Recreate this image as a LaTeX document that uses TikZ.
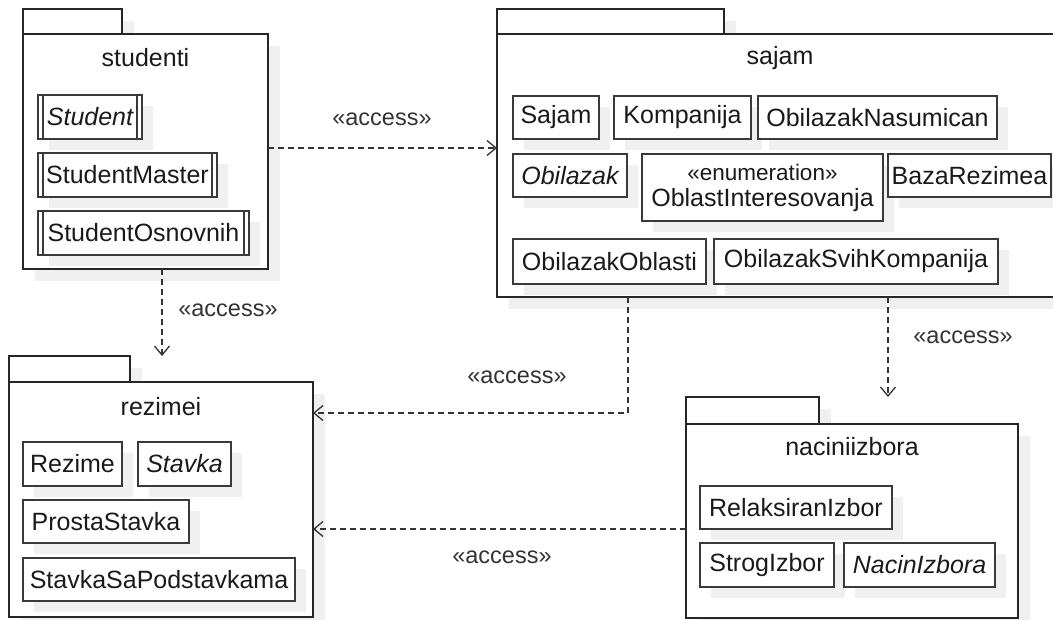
\documentclass[tikz,border=0pt]{standalone}
\usepackage{fontspec}
\setmainfont{Liberation Sans}
\usetikzlibrary{arrows.meta,shadows}
\definecolor{shd}{HTML}{F0F0F0}
\definecolor{ln}{HTML}{333333}
\definecolor{txt}{HTML}{1A1A1A}
\definecolor{bord}{HTML}{3A3A3A}
\tikzset{
  base/.style={font=\fontsize{25}{29}\selectfont, text=txt},
  pkgshape/.style={draw=black!85, line width=1.6pt, fill=white,
    drop shadow={shadow xshift=12pt, shadow yshift=-12pt, fill=shd, opacity=1},
    inner sep=0pt, outer sep=0pt},
  cls/.style={draw=bord, line width=1.6pt, fill=white,
    drop shadow={shadow xshift=11pt, shadow yshift=-11pt, fill=shd, opacity=1},
    inner sep=0pt, outer sep=0pt, base},
  abs/.style={font=\fontsize{25}{29}\selectfont\itshape},
  bar/.style={draw=bord, line width=1.4pt},
  acc/.style={draw=ln, line width=1.3pt, dash pattern=on 6pt off 4pt,
    -{Straight Barb[length=9pt,width=15pt,line width=1.3pt]}},
  lbl/.style={font=\fontsize{23.5}{26}\selectfont, text=ln}
}
% \clsbox[style]{name}{x1}{y1}{x2}{y2}{text}
\newcommand\clsbox[7][]{%
  \node[cls,#1,minimum width={(#5-#3)*1pt},minimum height={(#6-#4)*1pt}]
    (#2) at ({(#3+#5)/2},{(#4+#6)/2}) {#7};}
% \pkgbox{name}{x1}{ytab}{xtab}{y1}{x2}{y2}
\newcommand\pkgbox[7]{%
  \node[pkgshape,minimum width={(#4-#2)*1pt},minimum height={(#5-#3)*1pt}]
    (#1tab) at ({(#2+#4)/2},{(#3+#5)/2}) {};
  \node[pkgshape,minimum width={(#6-#2)*1pt},minimum height={(#7-#5)*1pt}]
    (#1) at ({(#2+#6)/2},{(#5+#7)/2}) {};}
\newcommand\dbl[1]{%
  \draw[bar] ([xshift=5pt]#1.north west) -- ([xshift=5pt]#1.south west);
  \draw[bar] ([xshift=-5pt]#1.north east) -- ([xshift=-5pt]#1.south east);}
\begin{document}
\begin{tikzpicture}[x=1pt,y=-1pt]
\useasboundingbox (0,0) rectangle (1053,619);
\fill[white] (0,0) rectangle (1053,619);

% ---------- studenti ----------
\pkgbox{studenti}{23}{9}{122}{34}{268}{269}
\node[base] (studentititle) at (145.5,58) {studenti};
\clsbox[abs]{student}{38}{95}{142}{139}{Student}
\dbl{student}
\clsbox{studentmaster}{38}{153}{217}{197}{StudentMaster}
\dbl{studentmaster}
\clsbox{studentosnovnih}{38}{211}{249}{255}{StudentOsnovnih}
\dbl{studentosnovnih}

% ---------- sajam ----------
\pkgbox{sajam}{497}{9}{724}{34}{1063}{297}
\node[base] (sajamtitle) at (780,58) {sajam};
\clsbox{sajamc}{513}{96}{599}{139}{Sajam}
\clsbox{kompanija}{614}{96}{751}{139}{Kompanija}
\clsbox{obnas}{758}{96}{997}{139}{ObilazakNasumican}
\clsbox[abs]{obilazak}{513}{154}{627}{197}{Obilazak}
\clsbox[align=center]{oblast}{642}{154}{883}{221}{{\fontsize{22.5}{27}\selectfont «enumeration»}\\[-3pt]OblastInteresovanja}
\clsbox{baza}{888}{154}{1051}{197}{BazaRezimea}
\clsbox{oboblasti}{513}{239}{706}{284}{ObilazakOblasti}
\clsbox{obsvih}{714}{239}{998}{284}{ObilazakSvihKompanija}

% ---------- rezimei ----------
\pkgbox{rezimei}{9}{356}{130}{382}{313}{617}
\node[base] (rezimeititle) at (161,407) {rezimei};
\clsbox{rezime}{23}{442}{122}{486}{Rezime}
\clsbox[abs]{stavka}{138}{442}{231}{486}{Stavka}
\clsbox{prosta}{23}{500}{189}{543}{ProstaStavka}
\clsbox{sapod}{23}{558}{295}{601}{StavkaSaPodstavkama}

% ---------- naciniizbora ----------
\pkgbox{nacini}{686}{397}{819}{424}{1018}{618}
\node[base] (nacinititle) at (852,447) {naciniizbora};
\clsbox{relaks}{700}{486}{892}{529}{RelaksiranIzbor}
\clsbox{strog}{700}{543}{834}{587}{StrogIzbor}
\clsbox[abs]{nacinizb}{844}{543}{995}{587}{NacinIzbora}

% ---------- connectors ----------
\draw[acc] (studenti.east |- 0,148) -- (sajam.west |- 0,148);
\node[lbl] (l1) at (382,119) {«access»};
\draw[acc] (studenti.south -| 162,0) -- (rezimeitab.north -| 162,0);
\node[lbl] (l2) at (228,310) {«access»};
\draw[acc] (sajam.south -| 628,0) |- (rezimei.east |- 0,413);
\node[lbl] (l3) at (517,377) {«access»};
\draw[acc] (sajam.south -| 888,0) -- (nacinitab.north -| 888,0);
\node[lbl] (l4) at (963,337) {«access»};
\draw[acc] (nacini.west |- 0,529) -- (rezimei.east |- 0,529);
\node[lbl] (l5) at (502,557) {«access»};
\end{tikzpicture}
\end{document}
